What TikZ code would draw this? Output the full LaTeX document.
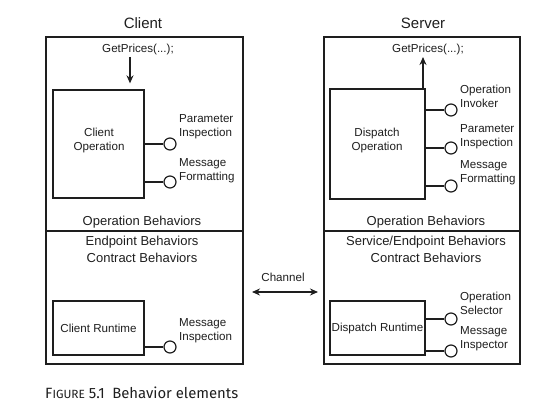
\documentclass[tikz,border=0pt]{standalone}
\usepackage{fontspec}
\usepackage{graphicx}
\setmainfont{Liberation Sans}
\newfontfamily\capfont{Fira Sans}
\usetikzlibrary{arrows.meta}
\definecolor{ink}{HTML}{1E1E1E}
\tikzset{
  every node/.style={text=ink},
  outerbox/.style={draw=ink, line width=1.2pt, minimum width=197pt, minimum height=327pt, inner sep=0pt},
  innerbox/.style={draw=ink, line width=1.3pt, inner sep=0pt, align=center, font=\fontsize{11.6}{14}\selectfont},
  socket/.style={circle, draw=ink, line width=1.2pt, minimum size=12pt, inner sep=0pt},
  lbl/.style={anchor=west, inner sep=0pt, align=left, font=\fontsize{11.6}{14}\selectfont},
  small/.style={inner sep=0pt, align=center, font=\fontsize{11.6}{14}\selectfont},
  title/.style={inner sep=0pt, font=\fontsize{15}{18}\selectfont},
  beh/.style={inner sep=0pt, align=center, font=\fontsize{13}{17}\selectfont},
  wire/.style={draw=ink, line width=1.2pt},
  arr/.style={draw=ink, line width=1.2pt, -{Stealth[length=8pt,width=7pt]}},
  darr/.style={draw=ink, line width=1.2pt, {Stealth[length=8pt,width=7pt]}-{Stealth[length=8pt,width=7pt]}},
}
\begin{document}
\begin{tikzpicture}[x=1pt,y=-1pt]
\useasboundingbox (0,0) rectangle (547,404);
% outer boxes
\node[outerbox] (cbox) at (144.5,200.5) {};
\node[outerbox, minimum width=196pt] (sbox) at (422,200.5) {};
\coordinate (cdl) at (46,231); \coordinate (cdr) at (243,231);
\coordinate (sdl) at (324,231); \coordinate (sdr) at (520,231);
\draw[wire] (cdl) -- (cdr);
\draw[wire] (sdl) -- (sdr);
% titles
\node[title] (ctitle) at (143,23) {Client};
\node[title] (stitle) at (423,23) {Server};
% getprices
\node[small] (gp1) at (138,49) {GetPrices(...);};
\node[small] (gp2) at (428,49) {GetPrices(...);};
% inner boxes
\node[innerbox, minimum width=91pt, minimum height=108pt] (cop) at (98.5,144) {};
\node[small] (copt) at (99,141) {Client\\Operation};
\node[innerbox, minimum width=95pt, minimum height=110pt] (sop) at (377.5,144) {};
\node[small] (sopt) at (377,141) {Dispatch\\Operation};
\node[innerbox, minimum width=91pt, minimum height=54pt] (crt) at (98.5,328) {Client Runtime};
\node[innerbox, minimum width=95pt, minimum height=54pt] (srt) at (377.5,328) {Dispatch Runtime};
% arrows
\coordinate (ca) at (130,57);
\draw[arr, shorten >=6pt] (ca) -- (ca |- cop.north);
\coordinate (sa) at (423,89);
\coordinate (sat) at (423,57);
\draw[arr] (sa) -- (sat);
% sockets client
\node[socket] (cpi) at (170,144) {};
\node[socket] (cmf) at (170,182) {};
\node[socket] (cmi) at (170,347) {};
\draw[wire] (cop.east |- cpi) -- (cpi);
\draw[wire] (cop.east |- cmf) -- (cmf);
\draw[wire] (crt.east |- cmi) -- (cmi);
\node[lbl] (lcpi) at (179,127) {Parameter\\Inspection};
\node[lbl] (lcmf) at (179,171) {Message\\Formatting};
\node[lbl] (lcmi) at (179,331) {Message\\Inspection};
% sockets server
\node[socket] (soi) at (451,110) {};
\node[socket] (spi) at (451,148) {};
\node[socket] (smf) at (451,186) {};
\node[socket] (sos) at (451,319) {};
\node[socket] (smi) at (451,351) {};
\draw[wire] (sop.east |- soi) -- (soi);
\draw[wire] (sop.east |- spi) -- (spi);
\draw[wire] (sop.east |- smf) -- (smf);
\draw[wire] (srt.east |- sos) -- (sos);
\draw[wire] (srt.east |- smi) -- (smi);
\node[lbl] (lsoi) at (460,96) {Operation\\Invoker};
\node[lbl] (lspi) at (460,137) {Parameter\\Inspection};
\node[lbl] (lsmf) at (460,173) {Message\\Formatting};
\node[lbl] (lsos) at (460,303) {Operation\\Selector};
\node[lbl] (lsmi) at (460,339) {Message\\Inspector};
% behaviors
\node[beh] (cob) at (142,222) {Operation Behaviors};
\node[beh] (sob) at (426,222) {Operation Behaviors};
\node[beh] (ceb) at (142,249.5) {Endpoint Behaviors\\Contract Behaviors};
\node[beh] (seb) at (426,249.5) {Service/Endpoint Behaviors\\Contract Behaviors};
% channel
\node[small] (chan) at (283,277) {Channel};
\coordinate (chl) at (243,292); \coordinate (chr) at (324,292);
\draw[darr, shorten <=9pt, shorten >=6pt] (chl) -- (chr);
% caption
\node[anchor=west, inner sep=0pt] (cap) at (45,393) {\resizebox{193pt}{!}{\capfont F{\footnotesize IGURE} 5.1\hspace{0.5em}Behavior elements}};
\end{tikzpicture}
\end{document}
